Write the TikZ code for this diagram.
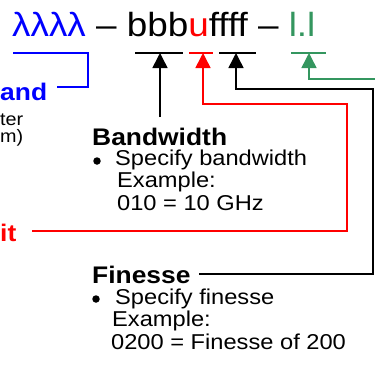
\documentclass[tikz,border=0pt]{standalone}
\usepackage{fontspec}
\setmainfont{Liberation Sans}[FakeStretch=1.1]
\usetikzlibrary{arrows.meta,positioning}
\definecolor{codeblue}{RGB}{0,0,255}
\definecolor{unitred}{RGB}{255,0,0}
\definecolor{leadgreen}{RGB}{52,150,95}

\begin{document}
\begin{tikzpicture}[x=1pt, y=-1pt,
  code/.style={anchor=base west, inner sep=0pt, font=\fontsize{33.5}{35}\selectfont},
  head/.style={anchor=base west, inner sep=0pt, font=\fontsize{24}{26}\selectfont\bfseries},
  body/.style={anchor=base west, inner sep=0pt, align=left,
    font=\fontsize{21.5}{22.5}\selectfont},
  side/.style={anchor=base west, inner sep=0pt, font=\fontsize{18}{20}\selectfont},
  dot/.style={circle, fill, inner sep=0pt, minimum size=7.5pt},
  uline/.style={line width=1.5pt},
  arr/.style={line width=1.5pt, -{Triangle[length=15pt, width=15pt]}}
]
\useasboundingbox (0,0) rectangle (375,370);
\clip (0,0) rectangle (375,370);

\node[code] (partno) at (12,36)
  {\textcolor{codeblue}{λλλλ} – bbb\textcolor{unitred}{u}ffff – \textcolor{leadgreen}{l.l}};

\node[head, text=codeblue] (band) at (0,100) {and};
\node[side] (wltop) at (0,125) {ter};
\node[side] (wlbot) at (0,142) {m)};
\node[head, text=unitred] (unit) at (0,241) {it};

\node[head] (bw) at (92,145) {Bandwidth};
\node[dot] (bwdot) at (97,161) {};
\node[body] (bwtext) at (115,210)
  {Specify bandwidth\\\hspace*{2pt}Example:\\\hspace*{2pt}010 = 10 GHz};

\node[head] (fin) at (92,283) {Finesse};
\node[dot] (findot) at (96,299) {};
\node[body] (fintext) at (115,349)
  {Specify finesse\\\hspace*{-3pt}Example:\\\hspace*{-4pt}0200 = Finesse of 200};

\coordinate (wlL) at (13,53);
\coordinate (wlR) at (88,53);
\coordinate (bandtag) at (57,87);
\coordinate (bwtip) at (160,53);
\coordinate (bwfoot) at (160,117);
\coordinate (untip) at (203,53);
\coordinate (unbend) at (347,104);
\coordinate (untag) at (32,231);
\coordinate (fitip) at (236,53);
\coordinate (fibend) at (373,89);
\coordinate (fitag) at (199,274);
\coordinate (lltip) at (309,53);
\coordinate (llout) at (380,79);

\draw[uline, codeblue] (wlL) -- (wlR) |- (bandtag);
\draw[uline] (135,53) -- (183,53);
\draw[uline, unitred] (189,53) -- (213,53);
\draw[uline] (219,53) -- (256,53);
\draw[uline, leadgreen] (291,53) -- (326,53);

\draw[arr] (bwfoot) -- (bwtip);
\draw[arr, unitred] (untag) -| (unbend) -| (untip);
\draw[arr] (fitag) -| (fibend) -| (fitip);
\draw[arr, leadgreen] (llout) -| (lltip);
\end{tikzpicture}
\end{document}
